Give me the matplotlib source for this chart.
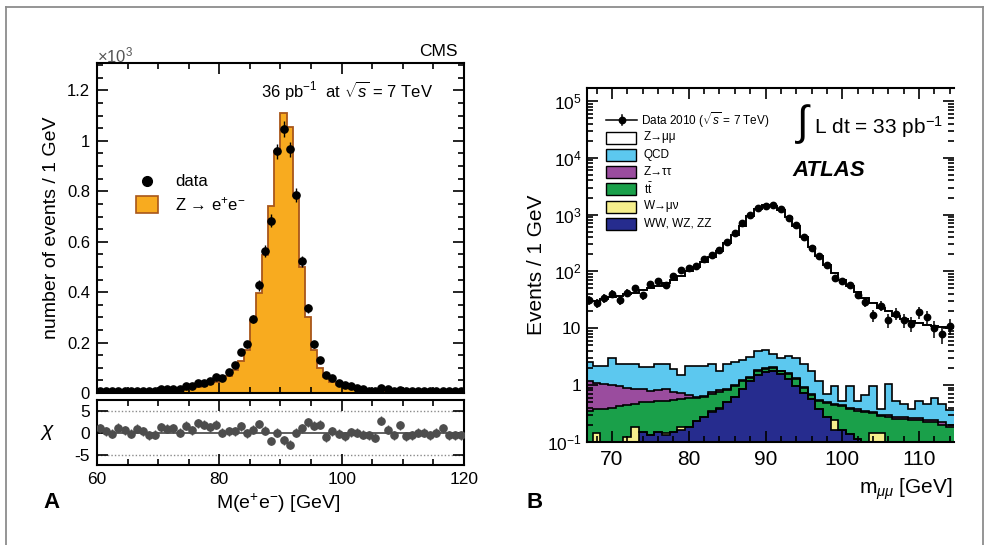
import numpy as np
import matplotlib
matplotlib.use("Agg")
import matplotlib.pyplot as plt
from matplotlib.patches import Rectangle
from matplotlib.lines import Line2D
from matplotlib import font_manager
from matplotlib.ticker import MultipleLocator, FixedLocator, FuncFormatter, LogLocator, NullFormatter

# ---------------------------------------------------------------- data
# Panel A: CMS Z -> ee, 1 GeV bins from 60 to 120 GeV (counts per bin)
cms_mass_bins = np.arange(60, 121)
cms_mc = [5, 5, 6, 6, 6, 7, 7, 8, 8, 9,
          10, 11, 12, 14, 16, 19, 23, 28, 34, 42,
          53, 68, 90, 125, 170, 290, 396, 549, 740, 961,
          1111, 1054, 781, 500, 300, 172, 100, 65, 45, 33,
          26, 21, 17, 14, 12, 10, 9, 8, 7, 7,
          6, 6, 6, 5, 5, 5, 5, 5, 5, 5]
cms_data = [7, 7, 7, 8, 7, 7, 8, 8, 7, 7,
            16, 16, 17, 15, 28, 27, 40, 41, 46, 65,
            60, 84, 110, 163, 193, 294, 427, 562, 684, 958,
            1046, 966, 785, 522, 336, 194, 130, 73, 60, 40,
            31, 28, 20, 15, 8, 8, 20, 15, 8, 10,
            7, 7, 7, 7, 7, 7, 7, 7, 7, 7]
cms_chi = [1.1, 0.4, -0.2, 1.2, 0.6, -0.2, 0.9, 0.4, -0.5, -0.4,
           1.3, 0.9, 1.1, 0.0, 1.6, 0.6, 2.2, 1.8, 1.3, 1.8,
           0.0, 0.4, 0.4, 1.5, -0.1, 0.7, 2.0, 0.5, -1.8, 0.0,
           -1.6, -2.6, 0.0, 1.1, 2.4, 1.6, 1.8, -1.0, 0.4, -0.2,
           -0.7, 0.2, 0.1, -0.4, -0.5, -1.1, 2.7, 0.7, -0.5, 1.7,
           -0.7, -0.5, 0.0, 0.0, -0.5, 0.0, 1.1, -0.5, -0.5, -0.5]

# Panel B: ATLAS Z -> mumu, 1 GeV bins centred on 67 ... 114 GeV
atlas_mass_bins = np.arange(66.5, 115.0, 1.0)
atlas_data = [31, 28, 34, 40, 31, 42, 50, 38, 61, 67,
              58, 82, 104, 114, 122, 167, 196, 240, 336, 470,
              705, 988, 1294, 1440, 1480, 1260, 861, 659, 411, 256,
              183, 131, 78, 67, 58, 39, 29, 17, 25, 14,
              18, 14, 12, 19, 16, 10, 8, 11]
atlas_zmumu = [28, 28, 30, 32, 34, 37, 40, 44, 48, 54,
               60, 70, 82, 98, 118, 143, 178, 228, 308, 428,
               637, 947, 1266, 1446, 1436, 1227, 897, 617, 408, 268,
               184, 129, 94, 71, 55, 43, 34, 27, 22, 19,
               16, 14, 13, 12, 11, 10.5, 10, 9.6]
atlas_qcd = [1.39, 1.05, 1.12, 2.0, 1.34, 1.40, 1.44, 1.26, 1.31, 1.48,
             1.46, 1.15, 0.78, 1.49, 1.53, 1.51, 1.54, 0.92, 1.44, 1.5,
             1.57, 1.7, 2.17, 2.25, 1.45, 1.21, 1.61, 1.7, 1.37, 1.07,
             0.63, 0.18, 0.49, 0.07, 0.56, 0.15, 0.31, 0.62, 0.07, 0.74,
             0.25, 0.19, 0.11, 0.26, 0.22, 0.34, 0.24, 0.16]
atlas_ztautau = [0.82, 0.73, 0.65, 0.60, 0.54, 0.45, 0.40, 0.34, 0.29, 0.30,
                 0.32, 0.20, 0.16, 0.08, 0.04, 0.03, 0.06, 0.08, 0.06, 0.04,
                 0.04, 0.05, 0.05, 0.05, 0.05, 0.04, 0.04, 0.03, 0.03, 0.03,
                 0.02, 0.02, 0.02, 0.02, 0.02, 0.02, 0.02, 0.02, 0.02, 0.02,
                 0.02, 0.02, 0.02, 0.02, 0.02, 0.02, 0.02, 0.02]
atlas_ttbar = [0.30, 0.23, 0.33, 0.35, 0.37, 0.33, 0.28, 0.35, 0.37, 0.37,
               0.38, 0.40, 0.38, 0.40, 0.35, 0.34, 0.35, 0.35, 0.30, 0.34,
               0.32, 0.20, 0.28, 0.20, 0.22, 0.20, 0.28, 0.31, 0.17, 0.10,
               0.15, 0.22, 0.21, 0.27, 0.245, 0.24, 0.28, 0.18, 0.14, 0.22,
               0.20, 0.20, 0.19, 0.19, 0.17, 0.17, 0.15, 0.13]
atlas_wmunu = [0, 0.09, 0, 0, 0, 0.07, 0.13, 0, 0, 0,
               0.01, 0, 0.02, 0, 0, 0, 0.02, 0.02, 0, 0,
               0, 0, 0, 0, 0, 0, 0, 0, 0, 0,
               0, 0, 0.08, 0, 0, 0, 0, 0.09, 0.09, 0,
               0, 0, 0, 0, 0, 0, 0, 0]
atlas_diboson = [0.05, 0.05, 0.05, 0.05, 0.05, 0.05, 0.05, 0.15, 0.13, 0.15,
                 0.13, 0.15, 0.16, 0.18, 0.23, 0.27, 0.33, 0.38, 0.50, 0.62,
                 0.85, 1.15, 1.5, 1.7, 1.78, 1.55, 1.27, 0.96, 0.73, 0.56,
                 0.37, 0.27, 0.16, 0.16, 0.135, 0.11, 0.05, 0.05, 0.05, 0.05,
                 0.05, 0.05, 0.05, 0.05, 0.05, 0.05, 0.05, 0.05]

atlas_labels = ["Z\u2192\u03bc\u03bc", "QCD", "Z\u2192\u03c4\u03c4",
                "t$\\bar{\\mathrm{t}}$", "W\u2192\u03bc\u03bd", "WW, WZ, ZZ"]

# ---------------------------------------------------------------- style
avail = {f.name for f in font_manager.fontManager.ttflist}
SANS = "Liberation Sans" if "Liberation Sans" in avail else "DejaVu Sans"
NARROW = "Liberation Sans Narrow" if "Liberation Sans Narrow" in avail else SANS

plt.rcParams["font.family"] = [SANS, "DejaVu Sans"]
plt.rcParams["mathtext.fontset"] = "custom"
plt.rcParams["mathtext.rm"] = SANS
plt.rcParams["mathtext.it"] = SANS + ":italic"
plt.rcParams["mathtext.bf"] = SANS + ":bold"
plt.rcParams["mathtext.sf"] = SANS
plt.rcParams["axes.unicode_minus"] = False

ORANGE = "#f8ab1f"
ORANGE_EDGE = "#a8561a"
C_QCD = "#5cc8ef"
C_TAU = "#9a4c9e"
C_TT = "#1aa04a"
C_W = "#f6ef8c"
C_VV = "#262c8e"

W, H = 989, 545
fig = plt.figure(figsize=(W / 100, H / 100), dpi=100)
fig.patch.set_facecolor("white")


def fx(x):
    return x / W


def fy(y):
    return 1 - y / H


def rect(l, t, r, b):
    return [fx(l), fy(b), (r - l) / W, (b - t) / H]


# thin page frame
for xs, ys in [((6, 6), (545, 7)), ((6, 983), (7, 7)), ((983, 983), (7, 545))]:
    fig.add_artist(Line2D([fx(x) for x in xs], [fy(y) for y in ys],
                          color="#8c8c8c", lw=1.3))


def root_ticks(ax, major, minor, lw=1.2):
    ax.tick_params(which="both", direction="in", top=True, right=True, width=lw)
    ax.tick_params(which="major", length=major)
    ax.tick_params(which="minor", length=minor)


# ---------------------------------------------------------------- panel A
ax1 = fig.add_axes(rect(97, 62.7, 464, 393))
ax2 = fig.add_axes(rect(97, 400, 464, 465))

cms_centers = cms_mass_bins[:-1] + 0.5
ax1.stairs(cms_mc, cms_mass_bins, fill=True, color=ORANGE, lw=0, zorder=1)
ax1.stairs(cms_mc, cms_mass_bins, baseline=None, color=ORANGE_EDGE, lw=1.3, zorder=2)
ax1.errorbar(cms_centers, cms_data, yerr=np.sqrt(cms_data), fmt="o", ms=5.2,
             color="black", ecolor="black", elinewidth=1.0, capsize=0, zorder=3)
ax1.set_xlim(60, 120)
ax1.set_ylim(0, 1310)
ax1.xaxis.set_major_locator(MultipleLocator(20))
ax1.xaxis.set_minor_locator(MultipleLocator(5))
ax1.yaxis.set_major_locator(MultipleLocator(200))
ax1.yaxis.set_minor_locator(MultipleLocator(50))
ax1.set_xticklabels([])
ax1.yaxis.set_major_formatter(FuncFormatter(lambda v, p: "%g" % (v / 1000.0)))
root_ticks(ax1, 8, 4)
ax1.tick_params(axis="y", labelsize=12, pad=5)
for s in ax1.spines.values():
    s.set_linewidth(1.5)

ax2.axhline(0, color="#444444", lw=1.2, zorder=1)
for v in (5, -5):
    ax2.axhline(v, color="#8a8a8a", lw=1.0, ls=(0, (1, 1.5)), zorder=1)
ax2.errorbar(cms_centers, cms_chi, yerr=1.0, fmt="o", ms=5.2, color="#4d4d4d",
             ecolor="#4d4d4d", elinewidth=1.0, capsize=0, zorder=3)
ax2.set_xlim(60, 120)
ax2.set_ylim(-7.2, 7.4)
ax2.xaxis.set_major_locator(MultipleLocator(20))
ax2.xaxis.set_minor_locator(MultipleLocator(5))
ax2.yaxis.set_major_locator(FixedLocator([-5, 0, 5]))
root_ticks(ax2, 8, 4)
ax2.tick_params(axis="both", labelsize=12.5)
ax2.tick_params(axis="y", pad=5)
ax2.tick_params(axis="x", pad=5)
for s in ax2.spines.values():
    s.set_linewidth(1.5)

fig.text(fx(52), fy(228), "number of events / 1 GeV", rotation=90, fontsize=14,
         ha="center", va="center")
fig.text(fx(48), fy(433), "$\\chi$", fontsize=15, ha="center", va="center")
fig.text(fx(278), fy(503), "M(e$^{+}$e$^{-}$) [GeV]", fontsize=14,
         ha="center", va="center")
fig.text(fx(51), fy(503), "A", fontsize=16, fontweight="bold", ha="center", va="center")
fig.text(fx(97), fy(55), "\u00d710$^{3}$", fontsize=12, color="#555555",
         ha="left", va="center")
fig.text(fx(458), fy(52), "CMS", fontsize=12.5, ha="right", va="center")
fig.text(fx(433), fy(90), "36 pb$^{-1}$  at $\\sqrt{s}$ = 7 TeV", fontsize=12,
         ha="right", va="center")

# legend of panel A
fig.add_artist(Line2D([fx(147)], [fy(181)], marker="o", ms=7, color="black", ls="none"))
fig.text(fx(175), fy(181), "data", fontsize=12, ha="left", va="center")
fig.add_artist(Rectangle((fx(136), fy(213)), 22 / W, 17 / H, facecolor=ORANGE,
                         edgecolor=ORANGE_EDGE, lw=1.2, transform=fig.transFigure))
fig.text(fx(175), fy(204), "Z \u2192 e$^{+}$e$^{-}$", fontsize=12, ha="left", va="center")

# ---------------------------------------------------------------- panel B
ax3 = fig.add_axes(rect(587, 88, 954, 441.7))
ax3.set_yscale("log")

layers = [atlas_diboson, atlas_wmunu, atlas_ttbar, atlas_ztautau, atlas_qcd, atlas_zmumu]
colors = [C_VV, C_W, C_TT, C_TAU, C_QCD, "white"]
stack = np.cumsum(np.vstack(layers), axis=0)
floor = np.full(stack.shape[1], 1e-3)
for i, col in enumerate(colors):
    lower = stack[i - 1] if i > 0 else floor
    ax3.stairs(stack[i], atlas_mass_bins, baseline=lower, fill=True, color=col,
               lw=0, zorder=1)
for i in range(len(colors)):
    ax3.stairs(stack[i], atlas_mass_bins, baseline=None, color="black",
               lw=1.4 if i == len(colors) - 1 else 1.2, zorder=2)

atlas_centers = atlas_mass_bins[:-1] + 0.5
ax3.errorbar(atlas_centers, atlas_data, yerr=np.sqrt(atlas_data), fmt="o", ms=4.6,
             color="black", ecolor="black", elinewidth=1.1, capsize=0, zorder=4)

ax3.set_xlim(66.75, 114.55)
ax3.set_ylim(0.1, 1.7e5)
ax3.xaxis.set_major_locator(MultipleLocator(10))
ax3.xaxis.set_minor_locator(MultipleLocator(2))
decades = [0.1, 1, 10, 100, 1e3, 1e4, 1e5]
dec_labels = ["10$^{-1}$", "1", "10", "10$^{2}$", "10$^{3}$", "10$^{4}$", "10$^{5}$"]
ax3.yaxis.set_major_locator(FixedLocator(decades))
ax3.yaxis.set_major_formatter(FuncFormatter(
    lambda v, p: dec_labels[int(np.argmin([abs(np.log10(v) - np.log10(d)) for d in decades]))]))
ax3.yaxis.set_minor_locator(LogLocator(base=10, subs=np.arange(2, 10), numticks=20))
ax3.yaxis.set_minor_formatter(NullFormatter())
root_ticks(ax3, 8, 4)
ax3.spines["right"].set_visible(False)
for s in ("left", "top", "bottom"):
    ax3.spines[s].set_linewidth(1.5)
ax3.tick_params(axis="y", labelsize=12.5, pad=4)
ax3.tick_params(axis="x", labelsize=15, pad=6)
for lab in ax3.get_xticklabels():
    lab.set_family(NARROW)

fig.text(fx(537), fy(265), "Events / 1 GeV", rotation=90, fontsize=15,
         family=NARROW, ha="center", va="center")
fig.text(fx(953), fy(489), "m$_{\\mu\\mu}$ [GeV]", fontsize=15, family=NARROW,
         ha="right", va="center")
fig.text(fx(535), fy(502), "B", fontsize=16, fontweight="bold", ha="center", va="center")
fig.text(fx(803), fy(124), "\u222b", fontsize=30, ha="center", va="center")
fig.text(fx(814), fy(127), "L dt = 33 pb$^{-1}$", fontsize=15, ha="left", va="center")
fig.text(fx(792), fy(170), "ATLAS", fontsize=16, fontweight="bold", style="italic",
         ha="left", va="center")

# legend of panel B
fig.add_artist(Line2D([fx(606), fx(637)], [fy(120), fy(120)], color="black", lw=1.1))
fig.add_artist(Line2D([fx(621.5)], [fy(120)], marker="o", ms=4.6, color="black"))
fig.add_artist(Line2D([fx(621.5), fx(621.5)], [fy(115), fy(125)], color="black", lw=1.1))
fig.text(fx(641), fy(120), "Data 2010 ($\\sqrt{s}$ = 7 TeV)", fontsize=8.5,
         family=NARROW, ha="left", va="center")
row_y = [137.5, 155, 172, 189, 206.5, 224]
legend_colors = ["white", C_QCD, C_TAU, C_TT, C_W, C_VV]
for yy, col, lab in zip(row_y, legend_colors, atlas_labels):
    fig.add_artist(Rectangle((fx(606), fy(yy + 6)), 30 / W, 12 / H, facecolor=col,
                             edgecolor="black", lw=1.0, transform=fig.transFigure))
    fig.text(fx(644), fy(yy), lab, fontsize=8.5, family=NARROW, ha="left", va="center")

fig.savefig("out.png", dpi=100, facecolor="white")
